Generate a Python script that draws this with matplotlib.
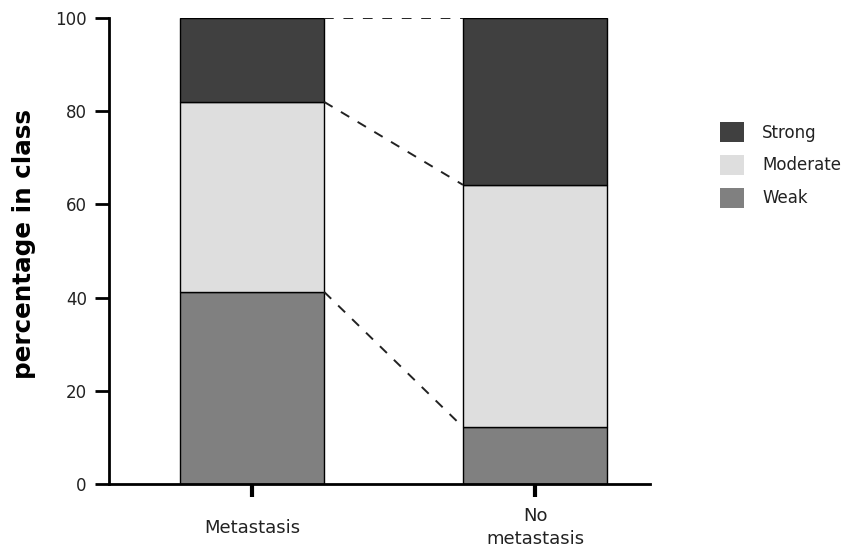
import numpy as np
import matplotlib.pyplot as plt

groups = ['Metastasis', 'No\nmetastasis']
weak = [41.2, 12.2]
moderate = [40.8, 52.0]
strong = [18.0, 35.8]
yticks = [0, 20, 40, 60, 80, 100]

colores = {'Weak': '#808080', 'Moderate': '#dedede', 'Strong': '#404040'}

fig = plt.figure(figsize=(8.52, 5.48), dpi=100)
ax = fig.add_axes([0.128, 0.117, 0.635, 0.850])

x = np.arange(len(groups))
ancho = 0.51

# barras apiladas
b_weak = ax.bar(x, weak, ancho, color=colores['Weak'], edgecolor='black', linewidth=1.0, label='Weak')
bottom2 = np.array(weak)
b_mod = ax.bar(x, moderate, ancho, bottom=bottom2, color=colores['Moderate'], edgecolor='black', linewidth=1.0, label='Moderate')
bottom3 = bottom2 + np.array(moderate)
b_str = ax.bar(x, strong, ancho, bottom=bottom3, color=colores['Strong'], edgecolor='black', linewidth=1.0, label='Strong')

# lineas discontinuas entre barras
for niveles in (bottom2, bottom3, bottom3 + np.array(strong)):
    ax.plot([x[0] + ancho / 2, x[1] - ancho / 2], [niveles[0], niveles[1]],
            linestyle=(0, (5, 5)), color='#222222', linewidth=1.4, zorder=1)

ax.set_xlim(-0.505, 1.406)
ax.set_ylim(0, 100)
ax.set_yticks(yticks)
ax.set_xticks(x)
ax.set_xticklabels(groups, fontsize=13, linespacing=1.35, color='#222222')
for lbl in ax.get_xticklabels():
    lbl.set_verticalalignment('center')
ax.tick_params(axis='y', labelsize=12, width=2, length=10, pad=6, labelcolor='#222222')
ax.tick_params(axis='x', width=3, length=9, pad=22.5)

for s in ('top', 'right'):
    ax.spines[s].set_visible(False)
for s in ('left', 'bottom'):
    ax.spines[s].set_linewidth(2)

ax.set_ylabel('percentage in class', fontsize=17.7, fontweight='bold')
ax.yaxis.set_label_coords(-0.135, 0.515)

handles = [b_str, b_mod, b_weak]
leg = fig.legend(handles, ['Strong', 'Moderate', 'Weak'], loc='upper left',
                 bbox_to_anchor=(0.828, 0.805), frameon=False, fontsize=12,
                 handlelength=1.4, handleheight=1.5, handletextpad=1.1, labelspacing=0.75)
for h in leg.legend_handles:
    h.set_linewidth(0)
for t in leg.get_texts():
    t.set_color('#222222')

plt.savefig('out.png', dpi=100)
